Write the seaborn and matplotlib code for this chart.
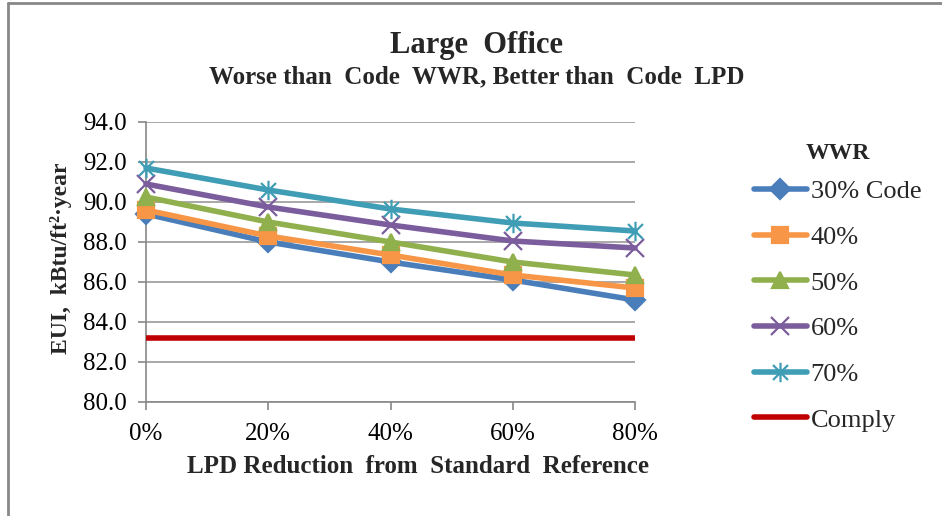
import numpy as np
import pandas as pd
import matplotlib
matplotlib.use("Agg")
import matplotlib.pyplot as plt
import seaborn as sns
from matplotlib.path import Path
from matplotlib.lines import Line2D

# data
lpd_reduction = [0, 20, 40, 60, 80]
tick_labels = ["0%", "20%", "40%", "60%", "80%"]
wwr_30 = [89.4, 88.0, 87.0, 86.1, 85.1]
wwr_40 = [89.6, 88.3, 87.35, 86.35, 85.7]
wwr_50 = [90.25, 89.0, 88.0, 87.0, 86.35]
wwr_60 = [90.9, 89.75, 88.85, 88.05, 87.7]
wwr_70 = [91.7, 90.6, 89.65, 88.95, 88.55]
comply = [83.2, 83.2, 83.2, 83.2, 83.2]

series_names = ["30% Code", "40%", "50%", "60%", "70%"]
series_values = [wwr_30, wwr_40, wwr_50, wwr_60, wwr_70]
colors = ["#4A7EBB", "#F79646", "#8FB04C", "#7B5C9C", "#3F9DB5"]
comply_color = "#C00000"

# Excel style star: an x with a vertical bar
star = Path([(-1, -1), (1, 1), (-1, 1), (1, -1), (0, -1.3), (0, 1.3)],
            [Path.MOVETO, Path.LINETO, Path.MOVETO, Path.LINETO, Path.MOVETO, Path.LINETO])
markers = ["D", "s", "^", "x", star]
msizes = [10, 12, 12, 13, 14]

sns.set_theme(style="white")
plt.rcParams["font.family"] = ["Liberation Serif", "DejaVu Serif"]

fig = plt.figure(figsize=(9.42, 5.16), dpi=100)
ax = fig.add_axes([146 / 942, 1 - 402 / 516, (635 - 146) / 942, (402 - 122) / 516])

for name, vals, col, mk, ms in zip(series_names, series_values, colors, markers, msizes):
    df = pd.DataFrame({"lpd": lpd_reduction, "eui": vals})
    sns.lineplot(data=df, x="lpd", y="eui", ax=ax, color=col, linewidth=4,
                 marker=mk, markersize=ms, markeredgecolor=col, markeredgewidth=1.6,
                 label=name, clip_on=False, zorder=3)

df_c = pd.DataFrame({"lpd": lpd_reduction, "eui": comply})
sns.lineplot(data=df_c, x="lpd", y="eui", ax=ax, color=comply_color, linewidth=4,
             label="Comply", zorder=3)

ax.set_xlim(0, 80)
ax.set_ylim(80, 94)
ax.set_xticks(lpd_reduction)
ax.set_xticklabels(tick_labels)
ax.set_yticks(np.arange(80, 94.1, 2))
ax.set_yticklabels([f"{v:.1f}" for v in np.arange(80, 94.1, 2)])
ax.tick_params(axis="both", labelsize=18, colors="#888888", labelcolor="black",
               direction="out", length=6, width=1.2, bottom=True, left=True)
ax.tick_params(axis="y", pad=8)
ax.tick_params(axis="x", pad=9)
ax.grid(axis="y", color="#999999", linewidth=1.2)
ax.grid(axis="x", visible=False)
for side in ["top", "right"]:
    ax.spines[side].set_visible(False)
for side in ["left", "bottom"]:
    ax.spines[side].set_color("#888888")
    ax.spines[side].set_linewidth(1.2)

ax.set_xlabel("LPD Reduction  from  Standard  Reference", fontsize=18,
              fontweight="bold")
ax.xaxis.set_label_coords(0.557, -0.19)
ax.set_ylabel("EUI,  kBtu/ft²·year", fontsize=17, fontweight="bold")
ax.yaxis.set_label_coords(-0.152, 0.515)

fig.text(0.506, 1 - 45 / 516, "Large  Office", ha="center", va="center",
         fontsize=22, fontweight="bold")
fig.text(0.506, 1 - 77 / 516, "Worse than  Code  WWR, Better than  Code  LPD",
         ha="center", va="center", fontsize=18, fontweight="bold")

handles, labels = ax.get_legend_handles_labels()
leg = ax.legend(handles, labels, title="WWR", loc="upper left",
                bbox_to_anchor=(754 / 942, 1 - 143 / 516), bbox_transform=fig.transFigure,
                frameon=False, fontsize=19, handlelength=2.0, handletextpad=0.15,
                labelspacing=0.84, borderpad=0, borderaxespad=0)
leg.get_title().set_fontsize(17)
leg.get_title().set_fontweight("bold")
leg._legend_box.align = "center"
leg._legend_box.sep = 11.5

# outer chart frame (top and left edges visible)
fig.add_artist(Line2D([8 / 942, 1], [1 - 3 / 516, 1 - 3 / 516], color="#888888",
                      linewidth=2, transform=fig.transFigure))
fig.add_artist(Line2D([8 / 942, 8 / 942], [0, 1 - 3 / 516], color="#888888",
                      linewidth=2, transform=fig.transFigure))

fig.savefig("out.png", dpi=100)
